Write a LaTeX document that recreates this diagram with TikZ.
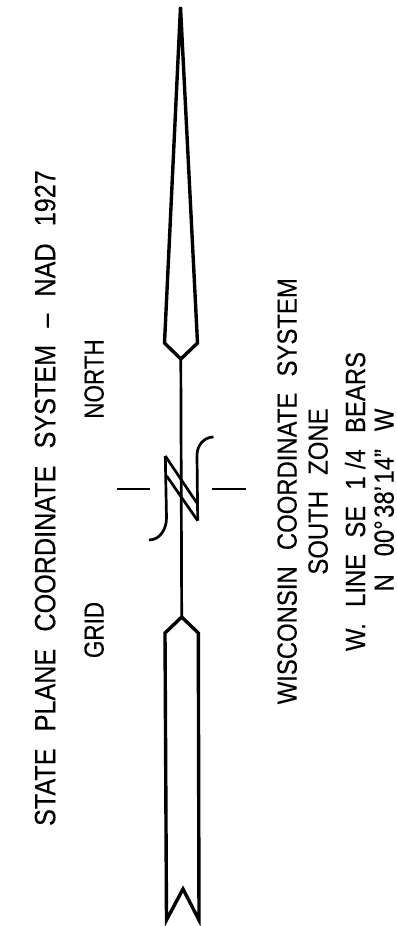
\documentclass[tikz,border=0pt]{standalone}
\usepackage{fontspec}
\setmainfont{Liberation Sans}[FakeBold=0.3]
\newcommand{\gp}{\hspace{0.68em}}
\tikzset{
	leader/.style={line width=2.9pt, line join=miter},
	thinleader/.style={line width=2.3pt},
	plate/.style={rotate=90, xscale=0.86, inner sep=0pt, text depth=0pt, font=\fontsize{25pt}{30pt}\selectfont},
	smallplate/.style={plate, font=\fontsize{23.7pt}{28pt}\selectfont},
}
\begin{document}
\begin{tikzpicture}[x=0.03cm, y=-0.03cm]
	\useasboundingbox (0, 0) rectangle (397, 926);
	% Arrow head and tail:
	\coordinate (H1) at (180.5, 7);
	\coordinate (H2) at (164.5, 343);
	\coordinate (H3) at (180.8, 359);
	\coordinate (H4) at (197.5, 343);
	\coordinate (T1) at (181.7, 617);
	\coordinate (T2) at (165, 633);
	\coordinate (T3) at (166.5, 920);
	\coordinate (T4) at (183, 889);
	\coordinate (T5) at (199, 920);
	\coordinate (T6) at (198.3, 633);
	\draw[leader] (H1) -- (H2) -- (H3) -- (H4) -- cycle;
	\draw[thinleader] (H3) -- (T1);
	\draw[leader] (T1) -- (T2) -- (T3) -- (T4) -- (T5) -- (T6) -- cycle;
	% Break symbol:
	\draw[thinleader] (165.3, 456) -- (196.7, 502.7);
	\draw[thinleader] (166.7, 476) -- (197.7, 520.7);
	\draw[thinleader] (149, 540) to[out=0, in=-90] (166.5, 518) -- (165.3, 456);
	\draw[thinleader] (213.5, 437) to[out=180, in=90] (197, 455) -- (197.7, 520.7);
	\draw[thinleader] (117, 489) -- (150, 489);
	\draw[thinleader] (212, 489) -- (246, 489);
	% Labels:
	\node[plate, anchor=east](N1) at (45, 170){STATE\gp PLANE\gp COORDINATE\gp SYSTEM\gp --\gp NAD\gp 1927};
	\node[smallplate, xscale=0.94](N2) at (94, 630){GRID};
	\node[smallplate, xscale=0.94](N3) at (94, 379){NORTH};
	\node[smallplate, anchor=east](N4) at (287, 278){WISCONSIN\gp COORDINATE\gp SYSTEM};
	\node[smallplate](N5) at (318, 491.5){SOUTH\gp ZONE};
	\node[smallplate](N6) at (355, 501.5){W.\gp LINE\gp SE\gp 1\hspace{0.3em}/4\gp BEARS};
	\node[smallplate](N7) at (384, 500){N\hspace{0.75em}00°\hspace{0.1em}38'\hspace{0.1em}14"\hspace{0.75em}W};
\end{tikzpicture}
\end{document}
